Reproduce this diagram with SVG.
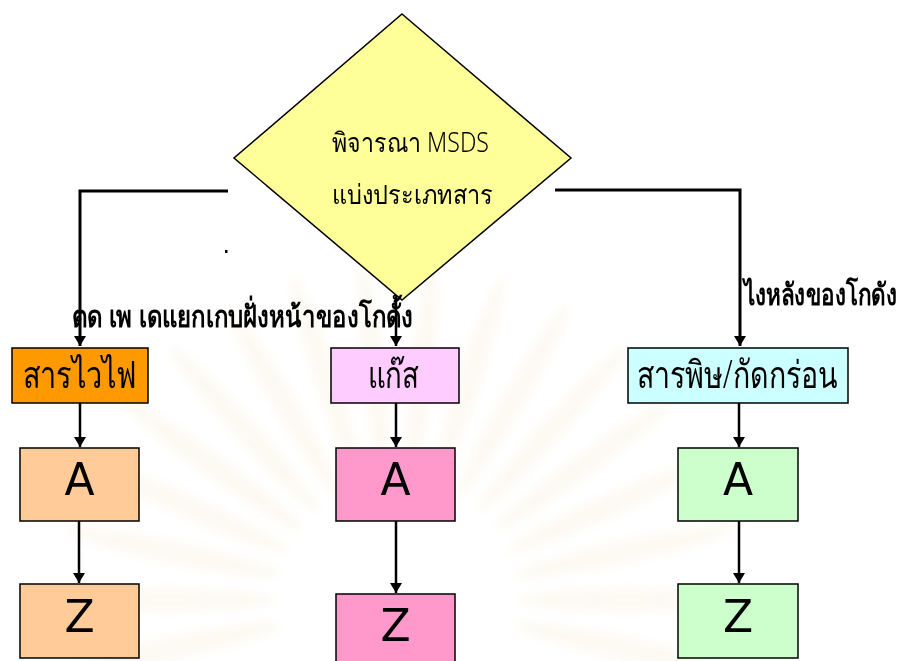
<svg xmlns="http://www.w3.org/2000/svg" width="907" height="661" viewBox="0 0 907 661">
  <style>
    .box { stroke: #000; stroke-width: 1.5; }
    .wire { fill: none; stroke: #000; stroke-width: 2.5; }
    .wire-thick { fill: none; stroke: #000; stroke-width: 3; }
    .thai { font-family: "Noto Sans", "DejaVu Sans", sans-serif; fill: #000; }
    .thai-box { font-size: 38px; font-weight: 300; }
    .thai-dec { font-size: 27px; font-weight: 300; }
    .thai-note { font-size: 30px; font-weight: bold; }
    .letter { font-family: "DejaVu Sans", "Liberation Sans", sans-serif; font-size: 44px; fill: #000; text-anchor: middle; }
  </style>
  <defs>
    <marker id="arrow" markerUnits="userSpaceOnUse" markerWidth="12" markerHeight="12" refX="10" refY="6" orient="auto">
      <path d="M0,0 L10,6 L0,12 z" fill="#000"/>
    </marker>
    <filter id="soft" x="-20%" y="-20%" width="140%" height="140%">
      <feGaussianBlur stdDeviation="5"/>
    </filter>
  </defs>

  <rect width="907" height="661" fill="#fff"/>

  <!-- faint sunburst emblem behind the centre column -->
  <g id="emblem" opacity="0.07" filter="url(#soft)" fill="#D8B040">
    <g transform="translate(398,600)">
      <ellipse cx="-230" cy="0" rx="110" ry="11" transform="rotate(0)"/>
      <ellipse cx="-230" cy="0" rx="110" ry="11" transform="rotate(12)"/>
      <ellipse cx="-230" cy="0" rx="110" ry="11" transform="rotate(24)"/>
      <ellipse cx="-230" cy="0" rx="110" ry="11" transform="rotate(36)"/>
      <ellipse cx="-230" cy="0" rx="110" ry="11" transform="rotate(48)"/>
      <ellipse cx="-230" cy="0" rx="110" ry="11" transform="rotate(60)"/>
      <ellipse cx="-230" cy="0" rx="110" ry="11" transform="rotate(72)"/>
      <ellipse cx="-230" cy="0" rx="110" ry="11" transform="rotate(84)"/>
      <ellipse cx="-230" cy="0" rx="110" ry="11" transform="rotate(96)"/>
      <ellipse cx="-230" cy="0" rx="110" ry="11" transform="rotate(108)"/>
      <ellipse cx="-230" cy="0" rx="110" ry="11" transform="rotate(120)"/>
      <ellipse cx="-230" cy="0" rx="110" ry="11" transform="rotate(132)"/>
      <ellipse cx="-230" cy="0" rx="110" ry="11" transform="rotate(144)"/>
      <ellipse cx="-230" cy="0" rx="110" ry="11" transform="rotate(156)"/>
      <ellipse cx="-230" cy="0" rx="110" ry="11" transform="rotate(168)"/>
      <ellipse cx="-230" cy="0" rx="110" ry="11" transform="rotate(180)"/>
      <ellipse cx="-230" cy="0" rx="110" ry="11" transform="rotate(-12)"/>
      <ellipse cx="-230" cy="0" rx="110" ry="11" transform="rotate(192)"/>
    </g>
  </g>

  <!-- decision -->
  <g id="decision">
    <polygon points="402,14 571,158 402,300 234,158" fill="#FFFF99" stroke="#000" stroke-width="1.5"/>
    <text class="thai thai-dec" x="332" y="152" textLength="157" lengthAdjust="spacingAndGlyphs">พิจารณา MSDS</text>
    <text class="thai thai-dec" x="332" y="204" textLength="161" lengthAdjust="spacingAndGlyphs">แบ่งประเภทสาร</text>
  </g>

  <!-- connectors -->
  <g id="connectors">
    <path class="wire-thick" d="M228,191 H80 V346" marker-end="url(#arrow)"/>
    <path class="wire-thick" d="M555,190 H740 V346" marker-end="url(#arrow)"/>
    <path class="wire" d="M396,297 V346" marker-end="url(#arrow)"/>
    <path class="wire" d="M80,403 V447" marker-end="url(#arrow)"/>
    <path class="wire" d="M396,403 V447" marker-end="url(#arrow)"/>
    <path class="wire" d="M739,403 V447" marker-end="url(#arrow)"/>
    <path class="wire" d="M79,521 V583" marker-end="url(#arrow)"/>
    <path class="wire" d="M396,521 V593" marker-end="url(#arrow)"/>
    <path class="wire" d="M739,521 V583" marker-end="url(#arrow)"/>
    <rect x="225" y="250" width="2.5" height="3" fill="#000"/>
    <text class="thai thai-note" x="72" y="327" textLength="341" lengthAdjust="spacingAndGlyphs">ตด เพ เดแยกเกบฝั่งหน้าของโกดั้ง</text>
    <!-- narrow label at the right edge: smaller font stretched vertically -->
    <text class="thai" font-size="22" font-weight="bold" transform="translate(744,305) scale(1,1.36)" x="0" y="0" textLength="153" lengthAdjust="spacingAndGlyphs">ไงหลังของโกดัง</text>
  </g>

  <!-- flammables column -->
  <g id="flammable">
    <rect class="box" x="12" y="348" width="136" height="55" fill="#FF9900"/>
    <text class="thai thai-box" x="23" y="388" textLength="114" lengthAdjust="spacingAndGlyphs">สารไวไฟ</text>
  </g>
  <g id="flammable-a">
    <rect class="box" x="20" y="448" width="119" height="73" fill="#FFCC99"/>
    <text class="letter" x="79.5" y="495">A</text>
  </g>
  <g id="flammable-z">
    <rect class="box" x="20" y="584" width="119" height="74" fill="#FFCC99"/>
    <text class="letter" x="79.5" y="632">Z</text>
  </g>

  <!-- gas column -->
  <g id="gas">
    <rect class="box" x="331" y="348" width="128" height="55" fill="#FFCCFF"/>
    <text class="thai thai-box" x="368" y="388" textLength="51" lengthAdjust="spacingAndGlyphs">แก๊ส</text>
  </g>
  <g id="gas-a">
    <rect class="box" x="336" y="448" width="119" height="73" fill="#FF99CC"/>
    <text class="letter" x="395.5" y="495">A</text>
  </g>
  <g id="gas-z">
    <rect class="box" x="336" y="594" width="119" height="74" fill="#FF99CC"/>
    <text class="letter" x="395.5" y="641">Z</text>
  </g>

  <!-- toxic / corrosive column -->
  <g id="toxic">
    <rect class="box" x="628" y="348" width="220" height="55" fill="#CCFFFF"/>
    <text class="thai thai-box" x="637" y="388" textLength="201" lengthAdjust="spacingAndGlyphs">สารพิษ/กัดกร่อน</text>
  </g>
  <g id="toxic-a">
    <rect class="box" x="678" y="448" width="120" height="73" fill="#CCFFCC"/>
    <text class="letter" x="738" y="495">A</text>
  </g>
  <g id="toxic-z">
    <rect class="box" x="678" y="584" width="120" height="74" fill="#CCFFCC"/>
    <text class="letter" x="738" y="632">Z</text>
  </g>
</svg>
